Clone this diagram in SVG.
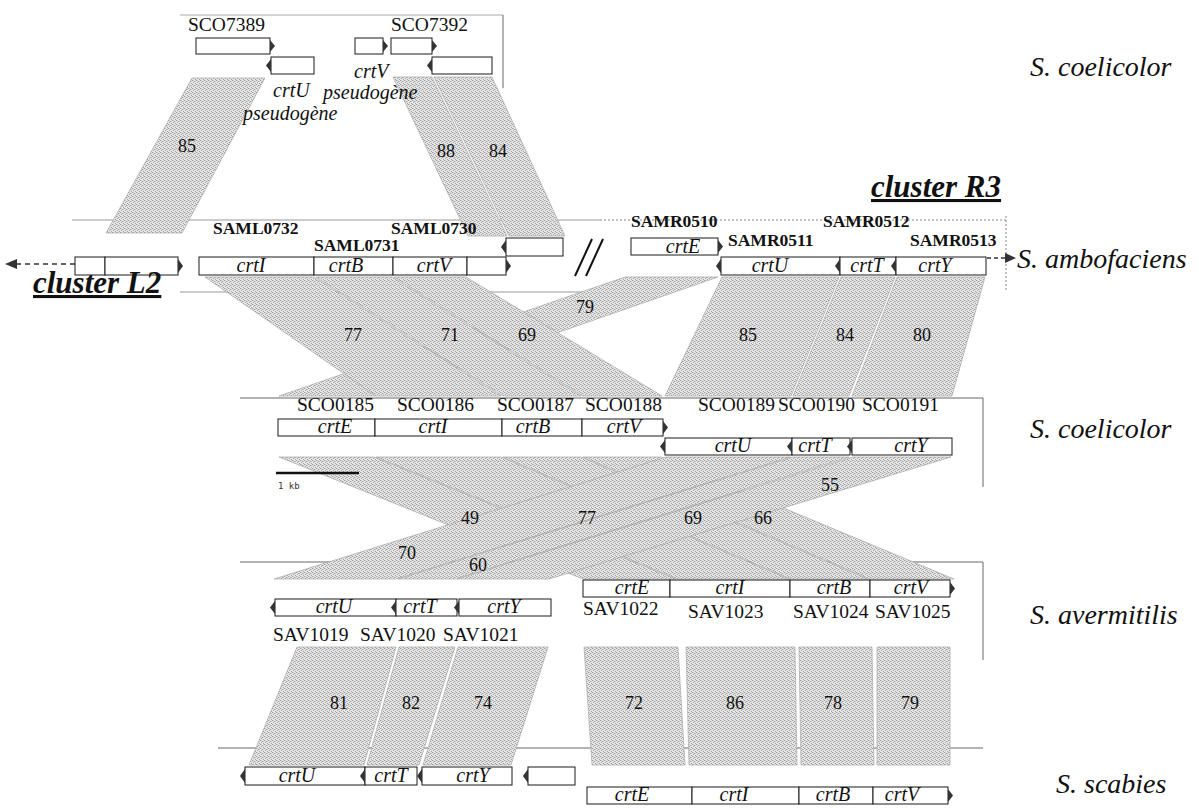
<svg xmlns="http://www.w3.org/2000/svg" width="1199" height="812" viewBox="0 0 1199 812">
<defs>
<pattern id="dith" width="4" height="4" patternUnits="userSpaceOnUse">
<rect width="4" height="4" fill="#e6e6e6"/>
<rect x="0" y="0" width="1" height="1" fill="#a0a0a0"/>
<rect x="2" y="1" width="1" height="1" fill="#a0a0a0"/>
<rect x="1" y="2" width="1" height="1" fill="#a8a8a8"/>
<rect x="3" y="3" width="1" height="1" fill="#a0a0a0"/>
<rect x="3" y="1" width="1" height="1" fill="#c4c4c4"/>
<rect x="1" y="0" width="1" height="1" fill="#c8c8c8"/>
</pattern>
</defs>
<style>
.band{fill:url(#dith);stroke:#a8a8a8;stroke-width:0.7}
.gene rect{fill:#fff;stroke:#1a1a1a;stroke-width:1}
.tip{fill:#333}
.seq{stroke:#666;stroke-width:1;fill:none}
.lt{stroke:#aaa;stroke-width:1;fill:none}
.dot{stroke:#888;stroke-width:1;fill:none;stroke-dasharray:2 2}
.num{font-family:"Liberation Serif",serif;font-size:18px;fill:#111;text-anchor:middle}
.gl{font-family:"Liberation Serif",serif;font-style:italic;font-size:20px;fill:#111;text-anchor:middle}
.id{font-family:"Liberation Serif",serif;font-size:19.5px;fill:#111}
.idb{font-family:"Liberation Serif",serif;font-weight:bold;font-size:17.5px;fill:#111}
.sp{font-family:"Liberation Serif",serif;font-style:italic;font-size:28px;fill:#111}
.cl{font-family:"Liberation Serif",serif;font-style:italic;font-weight:bold;font-size:31px;fill:#111;text-decoration:underline}
.ps{font-family:"Liberation Serif",serif;font-style:italic;font-size:20px;fill:#111}
</style>

<g id="frames">
<line class="lt" x1="180" y1="15" x2="503" y2="15"/>
<line class="seq" x1="503" y1="15" x2="503" y2="88"/>
<line class="seq" x1="72" y1="220" x2="600" y2="220" style="stroke:#999"/>
<line class="dot" x1="600" y1="220" x2="1006" y2="220"/>
<line class="dot" x1="1006" y1="216" x2="1006" y2="290"/>
<line class="seq" x1="180" y1="292" x2="583" y2="292" style="stroke:#999"/>
<line class="seq" x1="240" y1="398" x2="983" y2="398"/>
<line class="seq" x1="983" y1="398" x2="983" y2="487"/>
<line class="seq" x1="240" y1="562" x2="983" y2="562"/>
<line class="seq" x1="983" y1="562" x2="983" y2="660"/>
<line class="seq" x1="218" y1="748" x2="983" y2="748"/>
</g>

<g id="connectors">
<polygon class="band" points="192,78 265,78 182,233 106,233"/>
<polygon class="band" points="393,77 432,77 507,236 468,236"/>
<polygon class="band" points="434,77 492,77 565,236 509,236"/>

<polygon class="band" points="625,277 718,277 375,396 279,396"/>
<polygon class="band" points="205,277 314,277 501,396 376,396"/>
<polygon class="band" points="316,277 392,277 581,396 503,396"/>
<polygon class="band" points="394,277 466,277 662,396 583,396"/>
<polygon class="band" points="722,277 839,277 791,396 665,396"/>
<polygon class="band" points="841,277 895,277 849,396 793,396"/>
<polygon class="band" points="897,277 985,277 952,396 852,396"/>

<polygon class="band" points="279,457 374,457 676,579 583,579"/>
<polygon class="band" points="376,457 501,457 789,579 678,579"/>
<polygon class="band" points="503,457 581,457 868,579 791,579"/>
<polygon class="band" points="583,457 661,457 954,579 870,579"/>
<polygon class="band" points="666,457 791,457 396,579 274,579"/>
<polygon class="band" points="793,457 849,457 455,579 398,579"/>
<polygon class="band" points="853,457 951,457 549,579 457,579"/>

<polygon class="band" points="297,647 396,647 364,765 249,765"/>
<polygon class="band" points="399,647 455,647 419,765 367,765"/>
<polygon class="band" points="458,647 548,647 511,765 423,765"/>
<polygon class="band" points="584,647 678,647 685,765 592,765"/>
<polygon class="band" points="686,647 795,647 797,765 689,765"/>
<polygon class="band" points="799,647 872,647 874,765 801,765"/>
<polygon class="band" points="877,647 950,647 950,765 877,765"/>
</g>

<g id="identities">
<text class="num" x="187" y="152">85</text>
<text class="num" x="446" y="157">88</text>
<text class="num" x="498" y="157">84</text>
<text class="num" x="353" y="341">77</text>
<text class="num" x="450" y="341">71</text>
<text class="num" x="527" y="341">69</text>
<text class="num" x="585" y="313">79</text>
<text class="num" x="748" y="341">85</text>
<text class="num" x="845" y="341">84</text>
<text class="num" x="922" y="341">80</text>
<text class="num" x="830" y="491">55</text>
<text class="num" x="470" y="524">49</text>
<text class="num" x="587" y="524">77</text>
<text class="num" x="693" y="524">69</text>
<text class="num" x="763" y="524">66</text>
<text class="num" x="407" y="559">70</text>
<text class="num" x="478" y="571">60</text>
<text class="num" x="339" y="709">81</text>
<text class="num" x="411" y="709">82</text>
<text class="num" x="483" y="709">74</text>
<text class="num" x="634" y="709">72</text>
<text class="num" x="735" y="709">86</text>
<text class="num" x="833" y="709">78</text>
<text class="num" x="910" y="709">79</text>
</g>

<!-- S. coelicolor top cluster -->
<g id="SCO7389" class="gene"><rect x="196" y="38" width="74" height="16"/><polygon class="tip" points="270,40 275,46 270,52"/><text class="id" x="188" y="31">SCO7389</text></g>
<g id="crtU_pseudo" class="gene"><rect x="271" y="57" width="43" height="17"/><polygon class="tip" points="271,59 266,65.5 271,72"/><text class="ps" x="273" y="97">crtU</text><text class="ps" x="243" y="120">pseudogène</text></g>
<g id="crtV_pseudo" class="gene"><rect x="355" y="38" width="28" height="16"/><polygon class="tip" points="383,40 388,46 383,52"/><text class="ps" x="354" y="78">crtV</text><text class="ps" x="323" y="99">pseudogène</text></g>
<g id="SCO7392" class="gene"><rect x="391" y="38" width="41" height="16"/><polygon class="tip" points="432,40 437,46 432,52"/><text class="id" x="391" y="31">SCO7392</text></g>
<g id="SCO7393" class="gene"><rect x="432" y="57" width="60" height="17"/><polygon class="tip" points="432,59 427,65.5 432,72"/></g>

<!-- S. ambofaciens -->
<g id="L2_arrow"><line x1="75" y1="264" x2="16" y2="264" stroke="#333" stroke-width="1.5" stroke-dasharray="5 4"/><polygon points="5,264 17,259 17,269" fill="#333"/></g>
<g id="amb1" class="gene"><rect x="75" y="257" width="30" height="18"/><polygon class="tip" points="105,259 110,266 105,273"/></g>
<g id="amb2" class="gene"><rect x="105" y="257" width="73" height="18"/><polygon class="tip" points="178,259 183,266 178,273"/></g>
<g id="SAML0732" class="gene"><rect x="199" y="257" width="115" height="18"/><polygon class="tip" points="314,259 319,266 314,273"/><text class="gl" x="251" y="272">crtI</text><text class="idb" x="213" y="234">SAML0732</text></g>
<g id="SAML0731" class="gene"><rect x="314" y="257" width="79" height="18"/><polygon class="tip" points="393,259 398,266 393,273"/><text class="gl" x="346" y="272">crtB</text><text class="idb" x="314" y="251">SAML0731</text></g>
<g id="SAML0730" class="gene"><rect x="393" y="257" width="74" height="18"/><polygon class="tip" points="467,259 472,266 467,273"/><text class="gl" x="434" y="272">crtV</text><text class="idb" x="391" y="234">SAML0730</text></g>
<g id="amb6" class="gene"><rect x="467" y="257" width="39" height="18"/><polygon class="tip" points="506,259 511,266 506,273"/></g>
<g id="amb7" class="gene"><rect x="506" y="238" width="57" height="18"/><polygon class="tip" points="506,240 501,247 506,254"/></g>
<g id="break"><line x1="575" y1="276" x2="592" y2="239" stroke="#111" stroke-width="2"/><line x1="586" y1="276" x2="603" y2="239" stroke="#111" stroke-width="2"/></g>
<g id="SAMR0510" class="gene"><rect x="631" y="238" width="87" height="17"/><polygon class="tip" points="718,240 723,246.5 718,253"/><text class="gl" x="683" y="253">crtE</text><text class="idb" x="631" y="227">SAMR0510</text></g>
<g id="SAMR0511" class="gene"><rect x="721" y="257" width="119" height="18"/><polygon class="tip" points="721,259 716,266 721,273"/><text class="gl" x="770" y="272">crtU</text><text class="idb" x="728" y="246">SAMR0511</text></g>
<g id="SAMR0512" class="gene"><rect x="840" y="257" width="56" height="18"/><polygon class="tip" points="840,259 835,266 840,273"/><text class="gl" x="867" y="272">crtT</text><text class="idb" x="823" y="227">SAMR0512</text></g>
<g id="SAMR0513" class="gene"><rect x="896" y="257" width="90" height="18"/><polygon class="tip" points="896,259 891,266 896,273"/><text class="gl" x="935" y="272">crtY</text><text class="idb" x="910" y="246">SAMR0513</text></g>
<g id="R3_arrow"><line x1="987" y1="258" x2="1006" y2="258" stroke="#333" stroke-width="1.5" stroke-dasharray="4 3"/><polygon points="1016,258 1005,253 1005,263" fill="#333"/></g>
<g id="cluster_R3"><text class="cl" x="871" y="197">cluster R3</text></g>
<g id="cluster_L2"><text class="cl" x="33" y="293">cluster L2</text></g>

<!-- S. coelicolor middle -->
<g id="SCO0185" class="gene"><rect x="278" y="419" width="97" height="17"/><polygon class="tip" points="375,421 380,427.5 375,434"/><text class="gl" x="335" y="433">crtE</text><text class="id" x="297" y="411">SCO0185</text></g>
<g id="SCO0186" class="gene"><rect x="375" y="419" width="127" height="17"/><polygon class="tip" points="502,421 507,427.5 502,434"/><text class="gl" x="433" y="433">crtI</text><text class="id" x="397" y="411">SCO0186</text></g>
<g id="SCO0187" class="gene"><rect x="502" y="419" width="80" height="17"/><polygon class="tip" points="582,421 587,427.5 582,434"/><text class="gl" x="533" y="433">crtB</text><text class="id" x="497" y="411">SCO0187</text></g>
<g id="SCO0188" class="gene"><rect x="582" y="419" width="81" height="17"/><polygon class="tip" points="663,421 668,427.5 663,434"/><text class="gl" x="624" y="433">crtV</text><text class="id" x="585" y="411">SCO0188</text></g>
<g id="SCO0189" class="gene"><rect x="665" y="438" width="127" height="17"/><polygon class="tip" points="665,440 660,446.5 665,453"/><text class="gl" x="733" y="452">crtU</text><text class="id" x="698" y="411">SCO0189</text></g>
<g id="SCO0190" class="gene"><rect x="792" y="438" width="58" height="17"/><polygon class="tip" points="792,440 787,446.5 792,453"/><text class="gl" x="815" y="452">crtT</text><text class="id" x="778" y="411">SCO0190</text></g>
<g id="SCO0191" class="gene"><rect x="852" y="438" width="100" height="17"/><polygon class="tip" points="852,440 847,446.5 852,453"/><text class="gl" x="911" y="452">crtY</text><text class="id" x="862" y="411">SCO0191</text></g>
<g id="scalebar"><line x1="276" y1="473" x2="359" y2="473" stroke="#111" stroke-width="2.5"/><text x="278" y="489" font-family="DejaVu Sans Mono, monospace" font-size="9" fill="#333">1 kb</text></g>

<!-- S. avermitilis -->
<g id="SAV1022" class="gene"><rect x="583" y="580" width="87" height="17"/><polygon class="tip" points="670,582 675,588.5 670,595"/><text class="gl" x="632" y="594">crtE</text><text class="id" x="583" y="615">SAV1022</text></g>
<g id="SAV1023" class="gene"><rect x="670" y="580" width="120" height="17"/><polygon class="tip" points="790,582 795,588.5 790,595"/><text class="gl" x="730" y="594">crtI</text><text class="id" x="688" y="618">SAV1023</text></g>
<g id="SAV1024" class="gene"><rect x="790" y="580" width="80" height="17"/><polygon class="tip" points="870,582 875,588.5 870,595"/><text class="gl" x="834" y="594">crtB</text><text class="id" x="793" y="618">SAV1024</text></g>
<g id="SAV1025" class="gene"><rect x="870" y="580" width="80" height="17"/><polygon class="tip" points="950,582 955,588.5 950,595"/><text class="gl" x="911" y="594">crtV</text><text class="id" x="875" y="618">SAV1025</text></g>
<g id="SAV1019" class="gene"><rect x="275" y="599" width="121" height="17"/><polygon class="tip" points="275,601 270,607.5 275,614"/><text class="gl" x="334" y="613">crtU</text><text class="id" x="273" y="641">SAV1019</text></g>
<g id="SAV1020" class="gene"><rect x="396" y="599" width="61" height="17"/><polygon class="tip" points="396,601 391,607.5 396,614"/><text class="gl" x="420" y="613">crtT</text><text class="id" x="360" y="641">SAV1020</text></g>
<g id="SAV1021" class="gene"><rect x="459" y="599" width="92" height="17"/><polygon class="tip" points="459,601 454,607.5 459,614"/><text class="gl" x="504" y="613">crtY</text><text class="id" x="443" y="641">SAV1021</text></g>

<!-- S. scabies -->
<g id="scab_crtU" class="gene"><rect x="245" y="767" width="120" height="18"/><polygon class="tip" points="245,769 240,776 245,783"/><text class="gl" x="297" y="782">crtU</text></g>
<g id="scab_crtT" class="gene"><rect x="365" y="767" width="52" height="18"/><polygon class="tip" points="365,769 360,776 365,783"/><text class="gl" x="391" y="782">crtT</text></g>
<g id="scab_crtY" class="gene"><rect x="422" y="767" width="90" height="18"/><polygon class="tip" points="422,769 417,776 422,783"/><text class="gl" x="473" y="782">crtY</text></g>
<g id="scab_orf" class="gene"><rect x="528" y="767" width="47" height="18"/><polygon class="tip" points="528,769 523,776 528,783"/></g>
<g id="scab_crtE" class="gene"><rect x="587" y="787" width="105" height="17"/><polygon class="tip" points="692,789 697,795.5 692,802"/><text class="gl" x="632" y="801">crtE</text></g>
<g id="scab_crtI" class="gene"><rect x="692" y="787" width="107" height="17"/><polygon class="tip" points="799,789 804,795.5 799,802"/><text class="gl" x="734" y="801">crtI</text></g>
<g id="scab_crtB" class="gene"><rect x="799" y="787" width="74" height="17"/><polygon class="tip" points="873,789 878,795.5 873,802"/><text class="gl" x="833" y="801">crtB</text></g>
<g id="scab_crtV" class="gene"><rect x="873" y="787" width="75" height="17"/><polygon class="tip" points="948,789 953,795.5 948,802"/><text class="gl" x="902" y="801">crtV</text></g>

<g id="species">
<text class="sp" x="1030" y="76">S. coelicolor</text>
<text class="sp" x="1017" y="268">S. ambofaciens</text>
<text class="sp" x="1030" y="438">S. coelicolor</text>
<text class="sp" x="1030" y="624">S. avermitilis</text>
<text class="sp" x="1056" y="793">S. scabies</text>
</g>
</svg>
